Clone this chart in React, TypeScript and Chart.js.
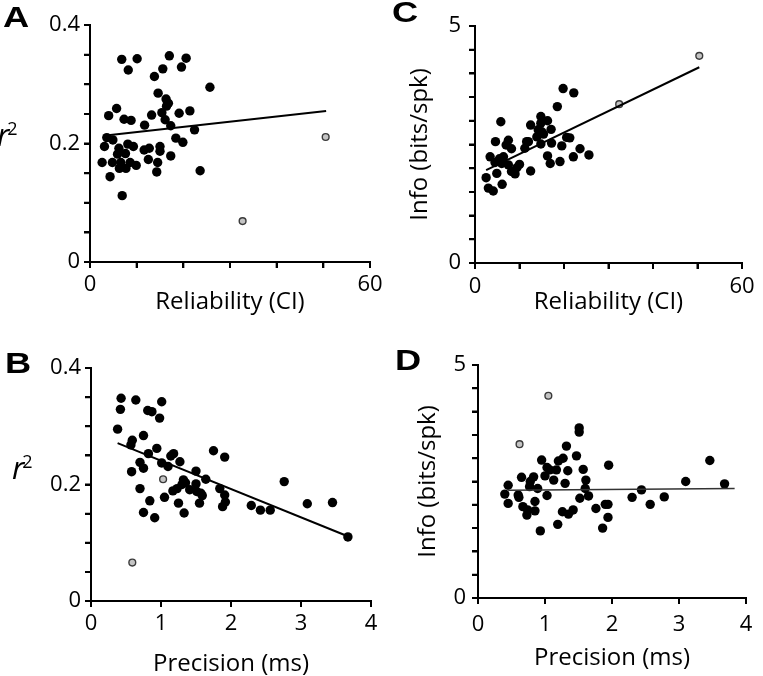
import React, { useEffect, useRef } from "react";
import { Chart, registerables } from "chart.js";

Chart.register(...registerables);

// ---------- DATA ----------
// Panel A: Reliability (CI) vs r^2
const A_REL = [6.8, 10.1, 8.2, 17.0, 20.6, 15.6, 13.8, 19.6, 25.7, 14.6, 16.3, 16.4, 5.7, 4.0, 15.4, 13.2, 19.1, 21.4, 7.3, 8.8, 11.7, 16.1, 17.3, 22.4, 3.6, 4.9, 18.4, 19.9, 3.1, 6.2, 8.1, 9.3, 11.6, 12.7, 15.0, 15.0, 5.9, 7.6, 12.5, 2.6, 4.8, 6.6, 8.6, 9.9, 6.3, 7.7, 14.5, 17.3, 14.3, 23.6, 4.3, 6.9, 16.8];
const A_R2 = [0.342, 0.343, 0.324, 0.348, 0.344, 0.326, 0.313, 0.329, 0.295, 0.285, 0.275, 0.263, 0.259, 0.247, 0.252, 0.248, 0.251, 0.255, 0.241, 0.239, 0.231, 0.240, 0.230, 0.223, 0.210, 0.206, 0.209, 0.202, 0.195, 0.192, 0.199, 0.195, 0.189, 0.192, 0.195, 0.187, 0.182, 0.183, 0.173, 0.168, 0.168, 0.168, 0.168, 0.163, 0.158, 0.158, 0.168, 0.179, 0.152, 0.154, 0.144, 0.112, 0.268];
const A_REL_OUT = [50.5, 32.7];
const A_R2_OUT = [0.211, 0.069];
const A_FIT_X = [2.9, 50.6];
const A_FIT_Y = [0.213, 0.255];

// Panel B: Precision (ms) vs r^2
const B_PREC = [0.43, 0.64, 1.01, 0.42, 0.81, 0.87, 0.98, 0.38, 0.59, 0.75, 0.57, 0.94, 1.75, 1.91, 0.82, 1.14, 1.18, 1.27, 1.01, 0.70, 0.75, 1.10, 0.58, 1.50, 1.64, 1.32, 1.30, 1.35, 1.50, 1.23, 1.41, 1.51, 1.57, 1.17, 0.70, 1.05, 1.55, 1.25, 0.84, 0.75, 0.91, 1.33, 1.84, 1.91, 1.88, 1.92, 3.67, 3.45, 3.09, 2.76, 2.56, 2.42, 2.29, 1.59];
const B_R2 = [0.348, 0.345, 0.342, 0.329, 0.327, 0.325, 0.314, 0.295, 0.276, 0.284, 0.268, 0.262, 0.258, 0.247, 0.253, 0.249, 0.253, 0.239, 0.237, 0.238, 0.228, 0.231, 0.222, 0.223, 0.209, 0.208, 0.200, 0.203, 0.201, 0.193, 0.191, 0.188, 0.185, 0.189, 0.193, 0.178, 0.168, 0.168, 0.172, 0.152, 0.143, 0.151, 0.193, 0.182, 0.162, 0.170, 0.110, 0.169, 0.167, 0.205, 0.156, 0.156, 0.164, 0.181];
const B_PREC_OUT = [1.03, 0.59];
const B_R2_OUT = [0.209, 0.066];
const B_FIT_X = [0.38, 3.65];
const B_FIT_Y = [0.271, 0.112];

// Panel C: Reliability (CI) vs Info (bits/spk)
const C_REL = [19.8, 22.2, 18.5, 5.8, 14.8, 16.3, 12.5, 14.8, 17.1, 14.2, 15.4, 13.9, 20.6, 21.3, 12.0, 14.8, 17.2, 19.5, 4.6, 7.5, 7.0, 8.2, 11.2, 23.6, 3.4, 6.4, 16.3, 22.1, 25.6, 4.5, 6.0, 16.9, 19.1, 10.0, 4.9, 8.2, 9.0, 12.5, 2.5, 6.1, 3.0, 4.1, 7.5, 9.4, 15.0, 11.6, 5.5];
const C_INFO = [3.68, 3.59, 3.30, 2.98, 3.09, 3.00, 2.91, 2.95, 2.82, 2.81, 2.72, 2.66, 2.65, 2.64, 2.56, 2.51, 2.53, 2.47, 2.56, 2.59, 2.49, 2.41, 2.42, 2.41, 2.24, 2.24, 2.26, 2.24, 2.28, 2.12, 2.10, 2.10, 2.14, 2.08, 1.89, 1.93, 1.88, 1.94, 1.80, 1.66, 1.58, 1.52, 2.07, 2.01, 2.77, 2.56, 2.20];
const C_REL_OUT = [50.4, 32.4];
const C_INFO_OUT = [4.37, 3.35];
const C_FIT_X = [2.5, 50.4];
const C_FIT_Y = [1.96, 4.13];

// Panel D: Precision (ms) vs Info (bits/spk)
const D_PREC = [1.51, 1.51, 1.32, 1.47, 1.95, 0.95, 1.20, 1.27, 1.03, 1.07, 1.17, 1.34, 1.57, 1.00, 0.83, 0.65, 1.13, 0.78, 1.30, 1.61, 0.45, 0.77, 0.89, 1.60, 0.40, 0.60, 1.03, 1.52, 1.65, 0.61, 0.85, 0.45, 0.67, 0.74, 0.73, 0.85, 1.26, 1.35, 1.42, 1.76, 1.90, 1.94, 1.94, 1.19, 0.93, 1.86, 2.30, 2.44, 2.57, 2.78, 3.10, 3.46, 3.68];
const D_INFO = [3.65, 3.56, 3.26, 3.05, 2.85, 2.96, 2.94, 3.00, 2.80, 2.75, 2.75, 2.73, 2.76, 2.62, 2.60, 2.59, 2.53, 2.50, 2.46, 2.53, 2.42, 2.39, 2.35, 2.35, 2.23, 2.21, 2.20, 2.14, 2.19, 2.16, 2.07, 2.03, 1.96, 1.89, 1.78, 1.87, 1.85, 1.80, 1.89, 1.92, 2.01, 2.01, 1.73, 1.58, 1.44, 1.50, 2.16, 2.32, 2.01, 2.17, 2.50, 2.95, 2.45];
const D_PREC_OUT = [1.05, 0.62];
const D_INFO_OUT = [4.34, 3.30];
const D_FIT_X = [0.45, 3.83];
const D_FIT_Y = [2.31, 2.35];

// Tick labels
const REL_TICK_LABELS = [0, 60];
const PREC_TICK_LABELS = [0, 1, 2, 3, 4];
const R2_TICK_LABELS = [0, 0.2, 0.4];
const INFO_TICK_LABELS = [0, 5];

// ---------- STYLE / LAYOUT ----------
const FONT = "'Open Sans', 'DejaVu Sans', sans-serif";
const LETTER_FONT = "'Liberation Sans', Arial, sans-serif";
const TICK_LEN = 6;

const pts = (xs: number[], ys: number[]) => xs.map((x, i) => ({ x, y: ys[i] }));

type AxisSpec = { min: number; max: number; step: number; labels: number[]; title?: string };

type PanelSpec = {
  box: { left: number; top: number; w: number; h: number };
  padTop: number;
  padRight: number;
  yWidth: number;
  xHeight: number;
  x: AxisSpec;
  y: AxisSpec;
  xTitlePadBottom: number;
  xTitleLineHeight: number;
  yTitlePadTop: number;
  yTickPad: number;
  xTickPad: number;
  main: { x: number; y: number }[];
  out: { x: number; y: number }[];
  fit: { x: number; y: number }[];
  fitColor: string;
  fitWidth: number;
};

const labelCb = (labels: number[]) => (value: any) => {
  const v = Number(value);
  const hit = labels.find((l) => Math.abs(l - v) < 1e-6);
  return hit === undefined ? "" : String(hit);
};

// Outward tick marks at every tick of the library's own scales
const tickMarkPlugin = {
  id: "tickMarks",
  afterDraw(chart: any) {
    const ctx = chart.ctx;
    const xs = chart.scales.x;
    const ys = chart.scales.y;
    ctx.save();
    ctx.strokeStyle = "#000";
    ctx.lineWidth = 2;
    ctx.beginPath();
    xs.ticks.forEach((t: any) => {
      const p = xs.getPixelForValue(t.value);
      ctx.moveTo(p, xs.top);
      ctx.lineTo(p, xs.top + TICK_LEN);
    });
    ys.ticks.forEach((t: any) => {
      const p = ys.getPixelForValue(t.value);
      ctx.moveTo(ys.right - TICK_LEN, p);
      ctx.lineTo(ys.right, p);
    });
    ctx.stroke();
    ctx.restore();
  },
};

function Panel({ spec }: { spec: PanelSpec }) {
  const ref = useRef<HTMLCanvasElement | null>(null);
  useEffect(() => {
    if (!ref.current) return;
    const s = spec;
    const tickFont = { family: FONT, size: 22 };
    const titleFont = { family: FONT, size: 24 };
    const gridOpts = { display: true, drawOnChartArea: false, drawTicks: true, tickLength: TICK_LEN, color: "#000", lineWidth: 2 };
    const chart = new Chart(ref.current, {
      type: "scatter",
      data: {
        datasets: [
          { type: "line", data: s.fit, borderColor: s.fitColor, borderWidth: s.fitWidth, pointRadius: 0, showLine: true, fill: false, order: 0 } as any,
          { data: s.main, backgroundColor: "#000", borderWidth: 0, pointRadius: 4.7, order: 2 },
          { data: s.out, backgroundColor: "#c4c4c4", borderColor: "#3a3a3a", borderWidth: 1.4, pointRadius: 3.4, order: 1 },
        ],
      },
      options: {
        responsive: false,
        animation: false,
        events: [],
        layout: { padding: { top: s.padTop, right: s.padRight, left: 0, bottom: 0 } },
        plugins: { legend: { display: false }, tooltip: { enabled: false } },
        scales: {
          x: {
            type: "linear",
            min: s.x.min,
            max: s.x.max,
            afterFit: (sc: any) => { sc.height = s.xHeight; sc.paddingLeft = 0; sc.paddingRight = 0; },
            ticks: { stepSize: s.x.step, autoSkip: false, maxRotation: 0, minRotation: 0, padding: s.xTickPad, color: "#000", font: tickFont, callback: labelCb(s.x.labels) },
            grid: gridOpts,
            border: { display: true, color: "#000", width: 2 },
            title: { display: !!s.x.title, text: s.x.title, color: "#000", font: { ...titleFont, lineHeight: s.xTitleLineHeight }, padding: { top: 0, bottom: s.xTitlePadBottom } },
          },
          y: {
            type: "linear",
            min: s.y.min,
            max: s.y.max,
            afterFit: (sc: any) => { sc.width = s.yWidth; sc.paddingTop = 0; sc.paddingBottom = 0; },
            ticks: { stepSize: s.y.step, autoSkip: false, padding: s.yTickPad, color: "#000", font: tickFont, callback: labelCb(s.y.labels) },
            grid: gridOpts,
            border: { display: true, color: "#000", width: 2 },
            title: { display: !!s.y.title, text: s.y.title, color: "#000", font: titleFont, padding: { top: s.yTitlePadTop, bottom: 0 } },
          },
        },
      } as any,
      plugins: [tickMarkPlugin],
    });
    return () => chart.destroy();
  }, [spec]);
  const b = spec.box;
  return <canvas ref={ref} width={b.w} height={b.h} style={{ position: "absolute", left: b.left, top: b.top, width: b.w, height: b.h }} />;
}

const PANEL_A: PanelSpec = {
  box: { left: 0, top: 0, w: 395, h: 335 }, padTop: 25, padRight: 25, yWidth: 90, xHeight: 73,
  x: { min: 0, max: 60, step: 10, labels: REL_TICK_LABELS, title: "Reliability (CI)" },
  y: { min: 0, max: 0.4, step: 0.05, labels: R2_TICK_LABELS },
  xTitlePadBottom: 18.6, xTitleLineHeight: 1.2, yTitlePadTop: 0, yTickPad: 4, xTickPad: 4,
  main: pts(A_REL, A_R2), out: pts(A_REL_OUT, A_R2_OUT), fit: pts(A_FIT_X, A_FIT_Y), fitColor: "#000", fitWidth: 2,
};
const PANEL_C: PanelSpec = {
  box: { left: 380, top: 0, w: 383, h: 335 }, padTop: 26, padRight: 21, yWidth: 95, xHeight: 72,
  x: { min: 0, max: 60, step: 10, labels: REL_TICK_LABELS, title: "Reliability (CI)" },
  y: { min: 0, max: 5, step: 0.5, labels: INFO_TICK_LABELS, title: "Info (bits/spk)" },
  xTitlePadBottom: 18.6, xTitleLineHeight: 1.2, yTitlePadTop: 25.6, yTickPad: 8, xTickPad: 5,
  main: pts(C_REL, C_INFO), out: pts(C_REL_OUT, C_INFO_OUT), fit: pts(C_FIT_X, C_FIT_Y), fitColor: "#000", fitWidth: 2,
};
const PANEL_B: PanelSpec = {
  box: { left: 0, top: 335, w: 395, h: 341 }, padTop: 33, padRight: 24, yWidth: 91, xHeight: 75,
  x: { min: 0, max: 4, step: 1, labels: PREC_TICK_LABELS, title: "Precision (ms)" },
  y: { min: 0, max: 0.4, step: 0.05, labels: R2_TICK_LABELS },
  xTitlePadBottom: 0, xTitleLineHeight: 1.0, yTitlePadTop: 0, yTickPad: 4, xTickPad: 4,
  main: pts(B_PREC, B_R2), out: pts(B_PREC_OUT, B_R2_OUT), fit: pts(B_FIT_X, B_FIT_Y), fitColor: "#000", fitWidth: 2,
};
const PANEL_D: PanelSpec = {
  box: { left: 380, top: 335, w: 383, h: 341 }, padTop: 30, padRight: 17, yWidth: 98, xHeight: 78,
  x: { min: 0, max: 4, step: 1, labels: PREC_TICK_LABELS, title: "Precision (ms)" },
  y: { min: 0, max: 5, step: 0.5, labels: INFO_TICK_LABELS, title: "Info (bits/spk)" },
  xTitlePadBottom: 3.6, xTitleLineHeight: 1.2, yTitlePadTop: 33.6, yTickPad: 6, xTickPad: 8,
  main: pts(D_PREC, D_INFO), out: pts(D_PREC_OUT, D_INFO_OUT), fit: pts(D_FIT_X, D_FIT_Y), fitColor: "#333", fitWidth: 1.5,
};

const letterStyle = (left: number, top: number): React.CSSProperties => ({
  position: "absolute", left, top, fontFamily: LETTER_FONT, fontWeight: "bold", fontSize: 29, lineHeight: 1,
  color: "#000", transform: "scaleX(1.25)", transformOrigin: "left top",
});

const r2Style = (left: number, top: number): React.CSSProperties => ({
  position: "absolute", left, top, fontFamily: FONT, fontSize: 31, lineHeight: 1, color: "#000", whiteSpace: "nowrap",
});

function R2Label({ left, top }: { left: number; top: number }) {
  return (
    <div style={r2Style(left, top)}>
      <span style={{ fontStyle: "italic" }}>r</span>
      <sup style={{ fontSize: 18, verticalAlign: "top", position: "relative", top: 0, marginLeft: -2 }}>2</sup>
    </div>
  );
}

export default function App() {
  return (
    <div style={{ position: "absolute", left: 0, top: 0, width: 763, height: 676, background: "#fff", overflow: "hidden" }}>
      <Panel spec={PANEL_A} />
      <Panel spec={PANEL_C} />
      <Panel spec={PANEL_B} />
      <Panel spec={PANEL_D} />
      <div style={letterStyle(3, 3)}>A</div>
      <div style={letterStyle(392, -2)}>C</div>
      <div style={letterStyle(5, 349)}>B</div>
      <div style={letterStyle(395, 346)}>D</div>
      <R2Label left={-3} top={119} />
      <R2Label left={12} top={452} />
    </div>
  );
}
